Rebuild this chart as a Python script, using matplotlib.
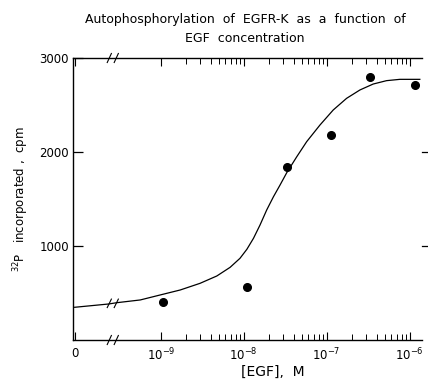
import matplotlib.pyplot as plt
import numpy as np
from matplotlib.lines import Line2D

# data (concentration in M, counts in cpm)
egf_conc = [1.05e-9, 1.1e-8, 3.3e-8, 1.12e-7, 3.3e-7, 1.15e-6]
cpm_obs = [404, 560, 1837, 2180, 2795, 2710]

# hand-drawn fit curve, traced point by point
curve_conc = [0, 2.34e-10, 2.95e-10, 5.64e-10, 9.8e-10, 1.71e-9, 2.97e-9,
              4.73e-9, 6.84e-9, 9.0e-9, 1.09e-8, 1.31e-8, 1.57e-8, 1.89e-8,
              2.28e-8, 2.74e-8, 3.30e-8, 4.36e-8, 5.74e-8, 8.3e-8, 1.20e-7,
              1.74e-7, 2.52e-7, 3.64e-7, 5.28e-7, 7.64e-7, 1.33e-6]
curve_cpm = [348, 383, 397, 426, 479, 532, 603, 681, 773, 869, 965, 1082,
             1223, 1383, 1524, 1649, 1780, 1950, 2110, 2287, 2447, 2571,
             2660, 2723, 2759, 2773, 2773]

decades = [-9, -8, -7, -6]
yticks = [1000, 2000, 3000]

ZERO_POS = -10.04   # where "0" sits on the log axis
BREAK_POS = -9.58   # axis break position


def xpos(c):
    c = np.asarray(c, dtype=float)
    out = np.full(c.shape, ZERO_POS)
    out[c > 0] = np.log10(c[c > 0])
    return out


plt.rcParams['font.family'] = 'DejaVu Sans'
plt.rcParams['font.size'] = 8.5

fig = plt.figure(figsize=(4.28, 3.80), dpi=100)
ax = fig.add_axes([73 / 428, 40 / 380, 349 / 428, 282 / 380])

ax.plot(xpos(curve_conc), curve_cpm, color='black', lw=0.9)
ax.plot(xpos(egf_conc), cpm_obs, 'o', color='black', ms=5.5)

ax.set_xlim(-10.06, -5.85)
ax.set_ylim(0, 3000)

# x ticks: "0" plus decades, log minor ticks
ax.set_xticks([ZERO_POS] + decades)
ax.set_xticklabels(['0'] + ['10$^{%d}$' % d for d in decades])
minors = [np.log10(k * 10.0 ** d) for d in decades[:-1] for k in range(2, 10)]
ax.set_xticks(minors, minor=True)
ax.tick_params(axis='x', which='both', direction='in', top=True, bottom=True, pad=5)
ax.tick_params(axis='x', which='major', length=6, width=0.8)
ax.tick_params(axis='x', which='minor', length=4, width=0.7)

ax.set_yticks(yticks)
ax.tick_params(axis='y', which='major', direction='in', length=7, width=0.9,
               left=True, right=False, pad=3)

# right side: no spine, only small outward ticks
ax.spines['right'].set_visible(False)
for s in ['left', 'top', 'bottom']:
    ax.spines[s].set_linewidth(1.0)
for yv in yticks[:2]:
    ax.add_line(Line2D([1.0, 1.017], [yv, yv], color='black', lw=0.9,
                       transform=ax.get_yaxis_transform(), clip_on=False))

# break marks on top/bottom spines and on the curve
trans = ax.get_xaxis_transform()
for yb in [0.0, 1.0]:
    for dx in [-0.042, 0.042]:
        ax.add_line(Line2D([BREAK_POS + dx - 0.025, BREAK_POS + dx + 0.025],
                           [yb - 0.016, yb + 0.016], color='black', lw=0.8,
                           transform=trans, clip_on=False))
ycurve = np.interp(BREAK_POS, xpos(curve_conc), curve_cpm)
for dx in [-0.042, 0.042]:
    ax.plot([BREAK_POS + dx - 0.025, BREAK_POS + dx + 0.025],
            [ycurve - 45, ycurve + 45], color='black', lw=0.8)

ax.set_ylabel('$^{32}$P   incorporated ,  cpm', labelpad=6)
fig.text(273 / 428, 1 - 372 / 380, '[EGF],  M', ha='center', va='center', fontsize=10)

fig.text(245 / 428, 1 - 20 / 380, 'Autophosphorylation  of  EGFR-K  as  a  function  of',
         ha='center', va='center', fontsize=9)
fig.text(245 / 428, 1 - 38 / 380, 'EGF  concentration',
         ha='center', va='center', fontsize=9)

plt.savefig('out.png', dpi=100)
